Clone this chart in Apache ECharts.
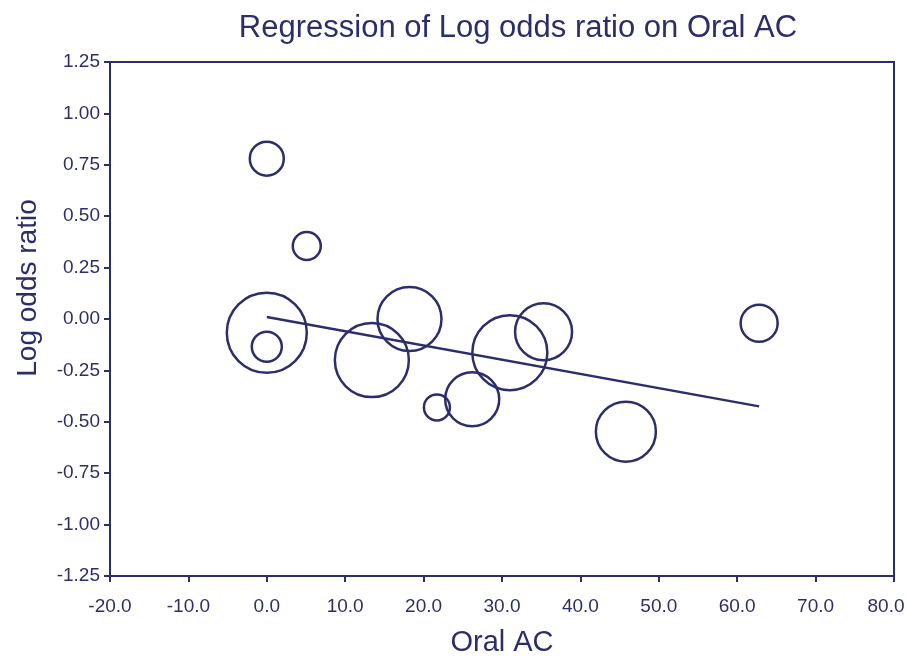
<!DOCTYPE html>
<html>
<head>
<meta charset="utf-8">
<script src="https://cdn.jsdelivr.net/npm/echarts@6/dist/echarts.min.js"></script>
<style>
html,body{margin:0;padding:0;background:#fff;}
#chart{width:907px;height:666px;}
</style>
</head>
<body>
<div id="chart"></div>
<script>
// Study data: Oral AC (x), log odds ratio (y), study weight (bubble size)
var oralAC   = [0.0, 5.1, 0.0, 0.0, 13.4, 18.2, 21.7, 26.2, 31.0, 35.3, 45.8, 62.8];
var logOdds  = [0.78, 0.355, -0.067, -0.135, -0.20, 0.0, -0.43, -0.39, -0.164, -0.062, -0.548, -0.021];
var weights  = [34, 28, 80, 30, 74, 64, 26, 54, 75, 57, 60, 37];
// Regression line end points
var regX = [0.0, 62.8];
var regY = [0.01, -0.425];
// Axis ticks
var xTicks = [-20, -10, 0, 10, 20, 30, 40, 50, 60, 70, 80];
var yTicks = [-1.25, -1.00, -0.75, -0.50, -0.25, 0.00, 0.25, 0.50, 0.75, 1.00, 1.25];

var navy = '#2c2e6c';
var font = 'Liberation Sans, Arial, Helvetica, sans-serif';

var bubbles = oralAC.map(function(x, i){ return [x, logOdds[i], weights[i]]; });
var line = regX.map(function(x, i){ return [x, regY[i]]; });
var xMax = xTicks[xTicks.length-1];

var chart = echarts.init(document.getElementById('chart'), null, {renderer:'canvas'});
chart.setOption({
  backgroundColor: '#ffffff',
  animation: false,
  title: {
    text: 'Regression of Log odds ratio on Oral AC',
    left: 513, top: 8, textAlign: 'center',
    textStyle: {color: navy, fontSize: 31, fontWeight: 'normal', fontFamily: font}
  },
  grid: {
    left: 110, right: 13, top: 62, bottom: 90,
    outerBoundsMode: 'none', containLabel: false,
    show: true, borderColor: navy, borderWidth: 2, backgroundColor: 'transparent'
  },
  xAxis: {
    type: 'value',
    min: xTicks[0], max: xMax, interval: 10,
    name: 'Oral AC', nameLocation: 'middle', nameGap: 52,
    nameTextStyle: {color: navy, fontSize: 29, fontFamily: font},
    axisLine: {show: true, onZero: false, lineStyle: {color: navy, width: 2}},
    axisTick: {show: true, length: 6, lineStyle: {color: navy, width: 2}},
    axisLabel: {color: navy, fontSize: 19, fontFamily: font, margin: 21,
      formatter: function(v){ return v === xMax ? '{last|' + v.toFixed(1) + '}' : v.toFixed(1); },
      rich: {last: {color: navy, fontSize: 19, fontFamily: font, padding: [0, 16, 0, 0]}}},
    splitLine: {show: false}
  },
  yAxis: {
    type: 'value',
    min: yTicks[0], max: yTicks[yTicks.length-1], interval: 0.25,
    name: 'Log odds ratio', nameLocation: 'middle', nameGap: 68, nameRotate: 90,
    nameTextStyle: {color: navy, fontSize: 28, fontFamily: font, padding: [0, 0, 0, 62]},
    axisLine: {show: true, onZero: false, lineStyle: {color: navy, width: 2}},
    axisTick: {show: true, length: 6, lineStyle: {color: navy, width: 2}},
    axisLabel: {color: navy, fontSize: 19, fontFamily: font, margin: 10,
      formatter: function(v){ return v.toFixed(2); }},
    splitLine: {show: false}
  },
  series: [
    {
      type: 'scatter',
      data: bubbles,
      symbol: 'circle',
      symbolSize: function(d){ return d[2]; },
      itemStyle: {color: 'rgba(0,0,0,0)', borderColor: navy, borderWidth: 2.5, opacity: 1},
      emphasis: {disabled: true}
    },
    {
      type: 'line',
      data: line,
      symbol: 'none',
      lineStyle: {color: navy, width: 2.5},
      emphasis: {disabled: true}
    }
  ]
});
</script>
</body>
</html>
